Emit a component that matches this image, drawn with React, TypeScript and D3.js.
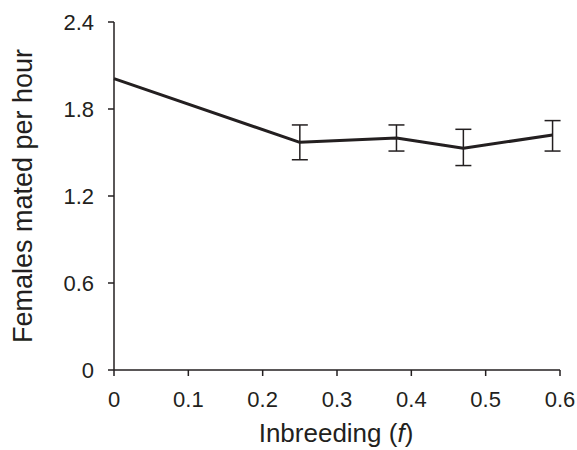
import React from "react";
import * as d3 from "d3";

const inbreeding = [0, 0.25, 0.38, 0.47, 0.59];
const matedPerHour = [2.01, 1.57, 1.6, 1.53, 1.62];
const errUpper = [null, 1.69, 1.69, 1.66, 1.72];
const errLower = [null, 1.45, 1.51, 1.41, 1.51];
const xTicks = [0, 0.1, 0.2, 0.3, 0.4, 0.5, 0.6];
const yTicks = [0, 0.6, 1.2, 1.8, 2.4];

const W = 577;
const H = 450;
const ink = "#231f20";
const font = "'Liberation Sans', Arial, Helvetica, sans-serif";

export default function App() {
  const x = d3.scaleLinear().domain([0, 0.6]).range([114, 560]);
  const y = d3.scaleLinear().domain([0, 2.4]).range([370, 22]);
  const pts = inbreeding.map((f, i) => [f, matedPerHour[i]] as [number, number]);
  const line = d3
    .line<[number, number]>()
    .x((d) => x(d[0]))
    .y((d) => y(d[1]));
  const fmt = (v: number) => (v === 0 ? "0" : String(v));
  return (
    <svg
      width={W}
      height={H}
      style={{ position: "absolute", left: 0, top: 0 }}
      fontFamily={font}
    >
      <rect width={W} height={H} fill="#fff" />
      <line x1={x(0)} x2={x(0)} y1={y(2.4)} y2={y(0)} stroke={ink} strokeWidth={1.5} />
      <line x1={x(0)} x2={x(0.6)} y1={y(0)} y2={y(0)} stroke={ink} strokeWidth={1.5} />
      {yTicks.map((t) => (
        <g key={"y" + t}>
          <line x1={x(0) - 6} x2={x(0)} y1={y(t)} y2={y(t)} stroke={ink} strokeWidth={1.5} />
          <text x={x(0) - 20} y={y(t)} dy="0.36em" textAnchor="end" fontSize={22} fill={ink}>
            {fmt(t)}
          </text>
        </g>
      ))}
      {xTicks.map((t) => (
        <g key={"x" + t}>
          <line x1={x(t)} x2={x(t)} y1={y(0)} y2={y(0) + 6} stroke={ink} strokeWidth={1.5} />
          <text x={x(t)} y={y(0) + 37} textAnchor="middle" fontSize={22} fill={ink}>
            {fmt(t)}
          </text>
        </g>
      ))}
      {inbreeding.map((f, i) => {
        const hi = errUpper[i];
        const lo = errLower[i];
        if (hi == null || lo == null) return null;
        const cx = x(f);
        return (
          <g key={"e" + i} stroke={ink} strokeWidth={1.5}>
            <line x1={cx} x2={cx} y1={y(hi)} y2={y(lo)} />
            <line x1={cx - 8} x2={cx + 8} y1={y(hi)} y2={y(hi)} />
            <line x1={cx - 8} x2={cx + 8} y1={y(lo)} y2={y(lo)} />
          </g>
        );
      })}
      <path d={line(pts) || ""} fill="none" stroke={ink} strokeWidth={3} strokeLinejoin="round" />
      <text x={336} y={442} textAnchor="middle" fontSize={26} fill={ink}>
        Inbreeding (<tspan fontStyle="italic">f</tspan>)
      </text>
      <text
        transform={`translate(32,${(y(0) + y(2.4)) / 2}) rotate(-90)`}
        textAnchor="middle"
        fontSize={27}
        fill={ink}
      >
        Females mated per hour
      </text>
    </svg>
  );
}
